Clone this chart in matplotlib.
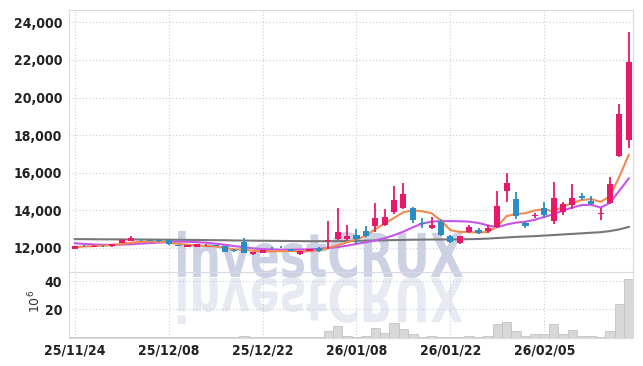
import matplotlib
matplotlib.use('Agg')
import matplotlib.pyplot as plt
import numpy as np
from matplotlib import font_manager
from matplotlib.font_manager import FontProperties
from matplotlib.textpath import TextPath
from matplotlib.patches import PathPatch
from matplotlib.transforms import Affine2D

# OHLC per trading day (KRW)
opens = [11950, 12110, 12050, 12120, 12080, 12260, 12370, 12440, 12450, 12390,
         12400, 12140, 12060, 12060, 12150, 12120, 12100, 11870, 12320, 11690,
         11750, 12010, 12060, 11950, 11690, 11850, 11990, 12370, 12500, 12480,
         12690, 12900, 13170, 13220, 13920, 14120, 14150, 13340, 13060, 13380,
         12650, 12280, 12870, 12960, 12900, 13120, 15030, 14580, 13320, 13720,
         14150, 13450, 13920, 14300, 14780, 14500, 13830, 14400, 16880, 17750]
highs = [12120, 12150, 12150, 12140, 12220, 12470, 12620, 12470, 12470, 12420,
         12420, 12150, 12160, 12220, 12190, 12130, 12120, 11950, 12530, 11800,
         11910, 12030, 12120, 11960, 11850, 11970, 12050, 13450, 14100, 13200,
         13000, 13170, 14400, 14050, 15300, 15450, 14170, 13580, 13640, 13550,
         12700, 12660, 13200, 13060, 13200, 15050, 16000, 15000, 13400, 13850,
         14430, 15500, 14430, 15400, 14900, 14780, 14120, 15750, 19650, 23500]
lows = [11930, 12050, 12030, 12070, 12060, 12240, 12350, 12380, 12350, 12340,
        12180, 12100, 12040, 12040, 12130, 12090, 11780, 11780, 11720, 11640,
        11730, 11960, 11980, 11830, 11640, 11820, 11800, 11950, 12450, 12430,
        12200, 12600, 12850, 13150, 13800, 14050, 13330, 13040, 13000, 12650,
        12250, 12200, 12820, 12760, 12820, 13050, 14450, 13550, 13050, 13620,
        13650, 13300, 13750, 14050, 14550, 14280, 13490, 14350, 16850, 17300]
closes = [12100, 12090, 12130, 12090, 12200, 12450, 12520, 12410, 12370, 12370,
          12220, 12110, 12140, 12200, 12170, 12100, 11800, 11820, 11750, 11790,
          11890, 11990, 12040, 11850, 11830, 11950, 11850, 12450, 12850, 12640,
          12500, 12650, 13580, 13640, 14530, 14850, 13500, 13300, 13200, 12700,
          12330, 12620, 13100, 12820, 13050, 14220, 15480, 13700, 13180, 13780,
          13780, 14680, 14320, 14680, 14650, 14330, 13870, 15380, 19100, 21900]

# moving averages as drawn
ma_short = [12050, 12080, 12100, 12120, 12150, 12220, 12280, 12330, 12350, 12330,
            12280, 12220, 12170, 12140, 12100, 12080, 12000, 11930, 11900, 11850,
            11820, 11820, 11830, 11840, 11820, 11830, 11880, 12000, 12150, 12300,
            12450, 12650, 13000, 13300, 13600, 13900, 14000, 13950, 13850, 13450,
            12950, 12850, 12850, 12820, 12850, 13150, 13700, 13800, 13850, 14000,
            14050, 13950, 14200, 14400, 14550, 14600, 14450, 14750, 15800, 16950]
ma_mid = [12250, 12220, 12190, 12170, 12170, 12180, 12200, 12230, 12260, 12290,
          12320, 12330, 12330, 12310, 12280, 12230, 12170, 12100, 12040, 11980,
          11940, 11920, 11910, 11910, 11920, 11930, 11950, 11990, 12050, 12120,
          12220, 12300, 12400, 12520, 12680, 12870, 13100, 13300, 13400, 13430,
          13430, 13420, 13400, 13330, 13200, 13100, 13250, 13350, 13400, 13500,
          13650, 13800, 14000, 14150, 14280, 14300, 14150, 14400, 15050, 15700]
ma_long = [12470, 12470, 12465, 12460, 12460, 12455, 12455, 12450, 12450, 12445,
           12440, 12435, 12430, 12425, 12420, 12415, 12410, 12400, 12395, 12390,
           12385, 12380, 12375, 12370, 12365, 12360, 12360, 12360, 12365, 12370,
           12380, 12390, 12400, 12410, 12420, 12430, 12440, 12445, 12450, 12450,
           12455, 12460, 12470, 12480, 12500, 12530, 12560, 12590, 12610, 12630,
           12660, 12690, 12720, 12750, 12780, 12810, 12840, 12900, 12990, 13120]

# volume in millions of shares
volume = [0.2, 0.1, 0.1, 0.1, 0.2, 0.3, 0.3, 0.1, 0.1, 0.1,
          0.2, 0.1, 0.1, 0.1, 0.1, 0.1, 0.3, 0.2, 0.8, 0.3,
          0.2, 0.1, 0.1, 0.1, 0.2, 0.1, 0.2, 4.7, 8.5, 1.4,
          0.7, 1.4, 6.4, 3.1, 10.6, 5.9, 2.4, 0.7, 1.4, 0.7,
          0.7, 0.7, 1.4, 0.7, 1.4, 9.4, 11.3, 4.9, 1.4, 2.4,
          2.4, 9.4, 2.4, 5.6, 1.4, 1.4, 0.7, 4.5, 24.0, 41.6]

tick_pos = [0, 10, 20, 30, 40, 50]
tick_labels = ['25/11/24', '25/12/08', '25/12/22', '26/01/08', '26/01/22', '26/02/05']
price_ticks = [12000, 14000, 16000, 18000, 20000, 22000, 24000]
vol_ticks = [20, 40]

UP = '#e8196b'
DOWN = '#2c8dc4'
GRID = '#c9cddb'
SPINE = '#d8dae2'

names = {f.name for f in font_manager.fontManager.ttflist}
if 'Liberation Sans Narrow' in names:
    tick_fp = FontProperties(family='Liberation Sans Narrow', weight='bold', size=11.5)
else:
    tick_fp = FontProperties(family='DejaVu Sans', stretch='condensed', weight='bold', size=10)

fig = plt.figure(figsize=(6.43, 3.66), dpi=100)
fig.patch.set_facecolor('white')
ax = fig.add_axes([69 / 643, 94 / 366, 564 / 643, 262.5 / 366])
axv = fig.add_axes([69 / 643, 28.5 / 366, 564 / 643, 65.5 / 366], sharex=ax)
for a in (ax, axv):
    a.set_facecolor('none')
    for s in a.spines.values():
        s.set_color(SPINE)
        s.set_linewidth(0.8)
    a.tick_params(length=0, colors='#222222')
    a.grid(True, color=GRID, linestyle=(0, (1, 2)), linewidth=0.8)
    a.set_axisbelow(True)
ax.spines['bottom'].set_visible(False)

x = np.arange(len(closes))
o = np.array(opens)
c = np.array(closes)
colors = [UP if cc >= oo else DOWN for oo, cc in zip(o, c)]

ax.vlines(x, lows, highs, colors=colors, linewidth=1.3, zorder=3)
body_bottom = np.minimum(o, c)
body_h = np.maximum(np.abs(c - o), 35)
ax.bar(x, body_h, bottom=body_bottom, width=0.65, color=colors, zorder=4)

ax.plot(x, ma_long, color='#777777', linewidth=1.5, zorder=2)
ax.plot(x, ma_mid, color='#c655e6', linewidth=1.5, zorder=2)
ax.plot(x, ma_short, color='#f08a4e', linewidth=1.5, zorder=2)

ax.set_xlim(-0.62, 59.45)
ax.set_ylim(10723, 24681)
ax.set_yticks(price_ticks)
ax.set_yticklabels([f'{v:,}' for v in price_ticks], fontproperties=tick_fp)
ax.tick_params(axis='y', pad=5)
plt.setp(ax.get_xticklabels(), visible=False)

axv.bar(x, volume, width=1.0, color='#d8d8d8', edgecolor='#bdbdbd', linewidth=0.5, zorder=3)
axv.set_ylim(0, 46.4)
axv.set_yticks(vol_ticks)
axv.set_yticklabels([str(v) for v in vol_ticks], fontproperties=tick_fp)
axv.tick_params(axis='y', pad=5)
axv.set_xticks(tick_pos)
axv.set_xticklabels(tick_labels, fontproperties=tick_fp)
axv.tick_params(axis='x', pad=4)
axv.set_ylabel(r'$10^6$', fontsize=9, color='#333333')
axv.yaxis.set_label_coords(-0.045, 0.55)

# watermark and its reflection
wm_fp = FontProperties(family='DejaVu Sans', weight='bold')
tp = TextPath((0, 0), 'investCRUX', size=1, prop=wm_fp)
ext = tp.get_extents()
cap = TextPath((0, 0), 'C', size=1, prop=wm_fp).get_extents().y1
sx = (285 / 100) / ext.width
sy = (45 / 100) / cap
left, base = 178 / 100, (366 - 277) / 100
t_main = Affine2D().translate(-ext.x0, 0).scale(sx, sy).translate(left, base) + fig.dpi_scale_trans
t_refl = Affine2D().translate(-ext.x0, 0).scale(sx, -sy).translate(left, base - 0.01) + fig.dpi_scale_trans
fig.add_artist(PathPatch(tp, transform=t_main, facecolor='#c3cbe0', edgecolor='none', alpha=0.85, zorder=-1))
fig.add_artist(PathPatch(tp, transform=t_refl, facecolor='#c3cbe0', edgecolor='none', alpha=0.4, zorder=-1))

fig.savefig('out.png', dpi=100, facecolor='white')
